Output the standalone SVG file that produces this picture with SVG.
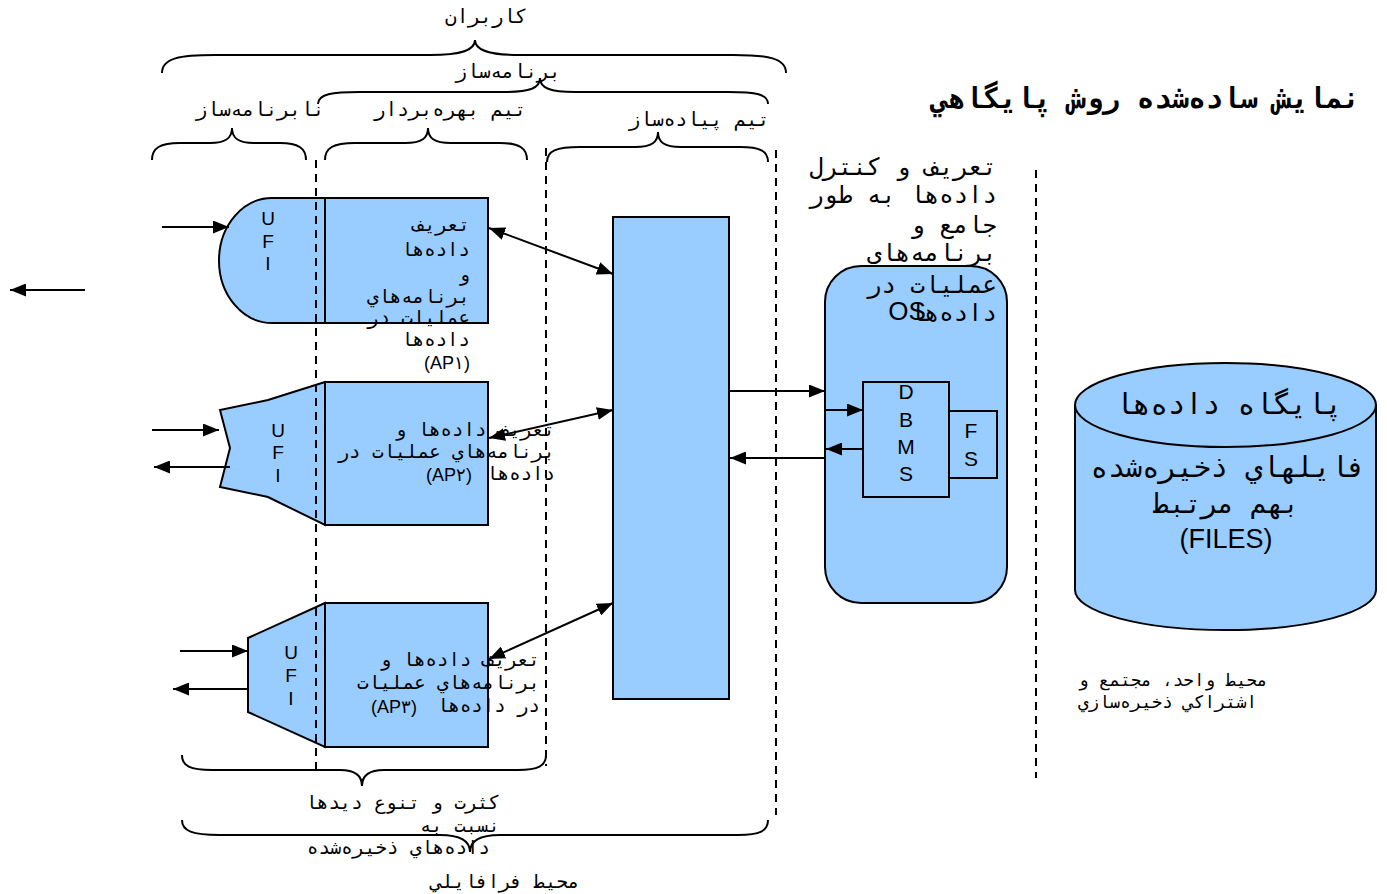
<svg xmlns="http://www.w3.org/2000/svg" width="1387" height="894" viewBox="0 0 1387 894">
  <style>
    .shape { fill: #99CCFF; stroke: #000; stroke-width: 2; }
    .brace { fill: none; stroke: #000; stroke-width: 2; }
    .dash { fill: none; stroke: #000; stroke-width: 2; stroke-dasharray: 8 6; }
    .conn { fill: none; stroke: #000; stroke-width: 2; }
    .fa { font-family: "DejaVu Sans Mono", "Liberation Mono", monospace; fill: #000; }
    .lat { font-family: "Liberation Sans", Arial, sans-serif; fill: #000; }
    .r { direction: rtl; text-anchor: start; }
    .c { text-anchor: middle; }
  </style>
  <defs>
    <marker id="ah" viewBox="0 0 16 13" refX="16" refY="6.5" markerWidth="16" markerHeight="13" markerUnits="userSpaceOnUse" orient="auto-start-reverse">
      <path d="M0,0 L16,6.5 L0,13 z" fill="#000"/>
    </marker>
  </defs>

  <rect width="1387" height="894" fill="#fff"/>

  <!-- title -->
  <text class="fa r" x="1360" y="108" font-size="28.5" font-weight="bold">نمايش ساده‌شده  روش پايگاهي</text>

  <!-- user group braces and labels -->
  <g id="braces">
    <path class="brace" d="M162,73 C162,58 180,55 215,55 H430 C462,55 475,50 475,40 C475,50 488,55 520,55 H733 C768,55 786,58 786,73"/>
    <path class="brace" d="M318,104 C318,94 332,92 360,92 H505 C530,92 540,88 540,78 C540,88 550,92 575,92 H728 C756,92 768,94 768,104"/>
    <path class="brace" d="M152,160 C152,148 160,143 180,143 H210 C226,143 232,138 232,128 C232,138 238,143 254,143 H280 C298,143 306,148 306,160"/>
    <path class="brace" d="M325,160 C325,148 333,143 355,143 H405 C422,143 428,138 428,128 C428,138 434,143 451,143 H500 C519,143 527,148 527,160"/>
    <path class="brace" d="M547,162 C547,151 556,147 580,147 H635 C652,147 658,142 658,132 C658,142 664,147 681,147 H740 C760,147 768,151 768,162"/>
    <path class="brace" d="M182,755 C182,766 190,770 212,770 H340 C356,770 362,776 362,786 C362,776 368,770 384,770 H518 C538,770 546,766 546,755"/>
    <path class="brace" d="M182,820 C182,831 192,835 220,835 H440 C462,835 470,842 470,852 C470,842 478,835 500,835 H738 C760,835 768,831 768,820"/>
  </g>
  <g id="group-labels" font-size="19.5">
    <text class="fa c" x="486" y="23">کاربران</text>
    <text class="fa c" x="508" y="78">برنامه‌ساز</text>
    <text class="fa c" x="260" y="116">نابرنامه‌ساز</text>
    <text class="fa c" x="450" y="116">تيم بهره‌بردار</text>
    <text class="fa c" x="699" y="126">تيم پياده‌ساز</text>
  </g>

  <!-- application 1 -->
  <g id="ufi1">
    <path class="shape" d="M325,198 H272 A53,62.5 0 0 0 272,323 H325 Z"/>
    <text class="lat c" x="268" y="225" font-size="19">U</text>
    <text class="lat c" x="268" y="248" font-size="19">F</text>
    <text class="lat c" x="268" y="270" font-size="19">I</text>
  </g>
  <g id="ap1">
    <rect class="shape" x="325" y="198" width="163" height="125"/>
  </g>

  <!-- application 2 -->
  <g id="ufi2">
    <path class="shape" d="M325,382 L268,400 L220,410 L230,448 L220,487 L268,497 L325,525 Z"/>
    <text class="lat c" x="278" y="437" font-size="19">U</text>
    <text class="lat c" x="278" y="459" font-size="19">F</text>
    <text class="lat c" x="278" y="482" font-size="19">I</text>
  </g>
  <g id="ap2">
    <rect class="shape" x="325" y="382" width="163" height="143"/>
  </g>

  <!-- application 3 -->
  <g id="ufi3">
    <path class="shape" d="M325,603 L248,638 L248,712 L325,747 Z"/>
    <text class="lat c" x="291" y="659" font-size="19">U</text>
    <text class="lat c" x="291" y="682" font-size="19">F</text>
    <text class="lat c" x="291" y="705" font-size="19">I</text>
  </g>
  <g id="ap3">
    <rect class="shape" x="325" y="603" width="163" height="144"/>
  </g>

  <!-- shared middle layer -->
  <g id="middle">
    <rect class="shape" x="613" y="217" width="116" height="482"/>
  </g>

  <!-- operating system with DBMS and file system -->
  <g id="os">
    <rect class="shape" x="825" y="266" width="182" height="337" rx="36" ry="36"/>
    <text class="lat c" x="907" y="320" font-size="26">OS</text>
  </g>
  <g id="dbms">
    <rect class="shape" x="863" y="382" width="86" height="115"/>
    <text class="lat c" x="906" y="399" font-size="21">D</text>
    <text class="lat c" x="906" y="427" font-size="21">B</text>
    <text class="lat c" x="906" y="454" font-size="21">M</text>
    <text class="lat c" x="906" y="481" font-size="21">S</text>
  </g>
  <g id="fs">
    <rect class="shape" x="949" y="411" width="48" height="67"/>
    <text class="lat c" x="971" y="438" font-size="21">F</text>
    <text class="lat c" x="971" y="466" font-size="21">S</text>
  </g>

  <!-- database cylinder -->
  <g id="database">
    <path class="shape" d="M1075,405 V590 A150,40 0 0 0 1376,590 V405"/>
    <ellipse class="shape" cx="1225.5" cy="405" rx="150.5" ry="42"/>
    <text class="fa c" x="1229" y="414" font-size="29">پايگاه داده‌ها</text>
    <text class="fa c" x="1228" y="477" font-size="28.5">فايلهاي ذخيره‌شده</text>
    <text class="fa c" x="1226" y="513" font-size="27">بهم مرتبط</text>
    <text class="lat c" x="1226" y="548" font-size="27">(FILES)</text>
  </g>

  <!-- boundary lines -->
  <g id="boundaries">
    <line class="dash" x1="316" y1="160" x2="316" y2="770"/>
    <line class="dash" x1="546" y1="148" x2="546" y2="766"/>
    <line class="dash" x1="776" y1="150" x2="776" y2="815"/>
    <line class="dash" x1="1036" y1="170" x2="1036" y2="778"/>
  </g>

  <!-- connectors -->
  <g id="connectors">
    <line class="conn" x1="85" y1="290" x2="10" y2="290" marker-end="url(#ah)"/>
    <line class="conn" x1="162" y1="227" x2="229" y2="227" marker-end="url(#ah)"/>
    <line class="conn" x1="152" y1="430" x2="219" y2="430" marker-end="url(#ah)"/>
    <line class="conn" x1="230" y1="467" x2="154" y2="467" marker-end="url(#ah)"/>
    <line class="conn" x1="180" y1="651" x2="248" y2="651" marker-end="url(#ah)"/>
    <line class="conn" x1="248" y1="689" x2="173" y2="689" marker-end="url(#ah)"/>
    <line class="conn" x1="489" y1="228" x2="613" y2="274" marker-start="url(#ah)" marker-end="url(#ah)"/>
    <line class="conn" x1="489" y1="438" x2="613" y2="410" marker-start="url(#ah)" marker-end="url(#ah)"/>
    <line class="conn" x1="489" y1="659" x2="613" y2="603" marker-start="url(#ah)" marker-end="url(#ah)"/>
    <line class="conn" x1="729" y1="391" x2="825" y2="391" marker-end="url(#ah)"/>
    <line class="conn" x1="825" y1="458" x2="730" y2="458" marker-end="url(#ah)"/>
    <line class="conn" x1="825" y1="410" x2="863" y2="410" marker-end="url(#ah)"/>
    <line class="conn" x1="863" y1="449" x2="826" y2="449" marker-end="url(#ah)"/>
  </g>

  <!-- descriptive texts -->
  <g id="ap-labels" font-size="19">
    <text class="fa r" x="470" y="231">تعريف</text>
    <text class="fa r" x="470" y="256">داده‌ها</text>
    <text class="fa r" x="470" y="281">و</text>
    <text class="fa r" x="470" y="303">برنامه‌هاي</text>
    <text class="fa r" x="470" y="324">عمليات در</text>
    <text class="fa r" x="470" y="346">داده‌ها</text>
    <text class="lat" x="470" y="369" text-anchor="end" font-size="18">(AP۱)</text>

    <text class="fa r" x="555" y="436">تعريف داده‌ها و</text>
    <text class="fa r" x="555" y="458">برنامه‌هاي عمليات در</text>
    <text class="fa r" x="555" y="480">داده‌ها</text>
    <text class="lat" x="472" y="481" text-anchor="end" font-size="18">(AP۲)</text>

    <text class="fa r" x="540" y="666">تعريف داده‌ها و</text>
    <text class="fa r" x="540" y="689">برنامه‌هاي عمليات</text>
    <text class="fa r" x="540" y="712">در داده‌ها</text>
    <text class="lat" x="417" y="713" text-anchor="end" font-size="18">(AP۳)</text>
  </g>
  <g id="dbms-label" font-size="24">
    <text class="fa r" x="997" y="175">تعريف و کنترل</text>
    <text class="fa r" x="997" y="203">داده‌ها به طور</text>
    <text class="fa r" x="997" y="233">جامع و</text>
    <text class="fa r" x="997" y="261">برنامه‌هاي</text>
    <text class="fa r" x="997" y="293">عمليات در</text>
    <text class="fa r" x="997" y="321">داده‌ها</text>
  </g>
  <g id="bottom-labels" font-size="19">
    <text class="fa r" x="500" y="809">کثرت و تنوع ديدها</text>
    <text class="fa r" x="500" y="832">نسبت به</text>
    <text class="fa r" x="490" y="854">داده‌هاي ذخيره‌شده</text>
    <text class="fa c" x="505" y="888">محيط فرافايلي</text>
  </g>
  <g id="storage-label" font-size="17.5">
    <text class="fa" x="1078" y="686">محيط واحد، مجتمع و</text>
    <text class="fa" x="1078" y="708">اشتراکي ذخيره‌سازي</text>
  </g>
</svg>
